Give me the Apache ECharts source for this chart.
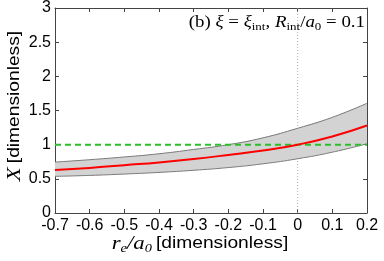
<!DOCTYPE html>
<html><head><meta charset="utf-8">
<script src="https://cdn.jsdelivr.net/npm/echarts@6/dist/echarts.min.js"></script>
<style>html,body{margin:0;padding:0;background:#fff}#c{width:384px;height:261px}</style>
</head><body><div id="c"></div>
<script>
var xs = [-0.7,-0.6,-0.5,-0.4,-0.3,-0.2,-0.1,0,0.1,0.2];
var central = [0.63,0.66,0.70,0.74,0.79,0.85,0.915,1.0,1.12,1.28];
var upper = [0.745,0.78,0.82,0.867,0.93,1.0,1.10,1.24,1.40,1.606];
var lower = [0.536,0.55,0.57,0.594,0.625,0.665,0.72,0.794,0.89,1.013];
var refX = [-0.7,0.2], refY = [1,1];
var vX = [0,0], vY = [0,3];

function pairs(a,b){return a.map(function(v,i){return [v,b[i]];});}

var chart = echarts.init(document.getElementById('c'));
var lab = {fontFamily:'Liberation Sans',fontSize:16,color:'#000'};
var frame = {onZero:false,lineStyle:{color:'#444',width:1}};
var tick = {inside:true,length:4,lineStyle:{color:'#444'}};
function xfmt(v){ var r=Math.round(v*10)/10; return r===0?'0':String(r); }
chart.setOption({
  animation:false,
  grid:{left:55,right:17,top:7,bottom:48},
  xAxis:[
    {type:'value',min:-0.7,max:0.2,interval:0.1,position:'bottom',
     axisLine:frame,axisTick:tick,
     axisLabel:Object.assign({margin:5,formatter:xfmt},lab),splitLine:{show:false}},
    {type:'value',min:-0.7,max:0.2,interval:0.1,position:'top',
     axisLine:frame,axisTick:tick,axisLabel:{show:false},splitLine:{show:false}}
  ],
  yAxis:[
    {type:'value',min:0,max:3,interval:0.5,position:'left',
     axisLine:frame,axisTick:tick,
     axisLabel:Object.assign({margin:4},lab),splitLine:{show:false}},
    {type:'value',min:0,max:3,interval:0.5,position:'right',
     axisLine:frame,axisTick:tick,axisLabel:{show:false},splitLine:{show:false}}
  ],
  series:[
    {type:'line',data:pairs(vX,vY),symbol:'none',z:1,
     lineStyle:{color:'#999',width:0.8,type:[1,2]}},
    {type:'custom',z:2,data:[0],renderItem:function(params,api){
       var pts=[];
       for(var i=0;i<xs.length;i++) pts.push(api.coord([xs[i],upper[i]]));
       for(var j=xs.length-1;j>=0;j--) pts.push(api.coord([xs[j],lower[j]]));
       return {type:'polygon',shape:{points:pts},style:{fill:'#d3d3d3',stroke:null}};
     }},
    {type:'line',data:pairs(xs,lower),smooth:true,symbol:'none',z:3,
     lineStyle:{color:'#7a7a7a',width:1}},
    {type:'line',data:pairs(xs,upper),smooth:true,symbol:'none',z:3,
     lineStyle:{color:'#7a7a7a',width:1}},
    {type:'line',data:pairs(refX,refY),symbol:'none',z:4,
     lineStyle:{color:'#2ac02a',width:2,type:[6,4]}},
    {type:'line',data:pairs(xs,central),smooth:true,symbol:'none',z:5,
     lineStyle:{color:'#ff0000',width:2}}
  ],
  graphic:[
    {type:'text',x:365,y:23,scaleX:1.18,z:10,style:{
      text:'(b) {i|ξ} = {i|ξ}{s|int}, {i|R}{s|int}/{i|a}{s|0} = 0.1',
      font:'16px "Liberation Serif"',fill:'#000',align:'right',verticalAlign:'middle',
      rich:{i:{fontFamily:'Liberation Serif',fontStyle:'italic',fontSize:16,lineHeight:19},
            s:{fontFamily:'Liberation Serif',fontSize:11,lineHeight:11,padding:[8,0,0,0]}}}},
    {type:'text',x:200,y:244,scaleX:1.2,z:10,style:{
      text:'{i|r}{s|e}{i|/a}{s|0} {t|[dimensionless]}',
      fill:'#000',align:'center',verticalAlign:'middle',
      rich:{i:{fontFamily:'Liberation Serif',fontStyle:'italic',fontSize:19,lineHeight:22},
            s:{fontFamily:'Liberation Serif',fontStyle:'italic',fontSize:12,lineHeight:12,padding:[10,0,0,0]},
            t:{fontFamily:'Liberation Sans',fontSize:16,lineHeight:22}}}},
    {type:'text',x:15,y:106,rotation:Math.PI/2,scaleX:1.2,z:10,style:{
      text:'{i|X} {t|[dimensionless]}',
      fill:'#000',align:'center',verticalAlign:'middle',
      rich:{i:{fontFamily:'Liberation Serif',fontStyle:'italic',fontSize:19,lineHeight:22},
            t:{fontFamily:'Liberation Sans',fontSize:16,lineHeight:22}}}}
  ]
});
</script></body></html>
